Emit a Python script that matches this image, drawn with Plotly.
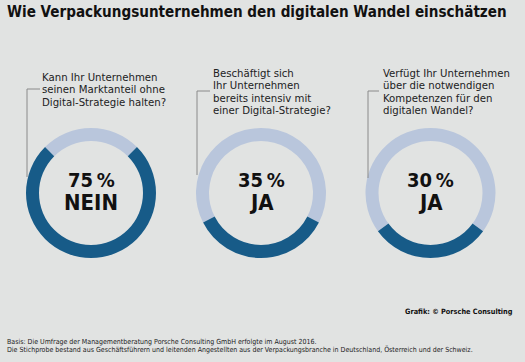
import plotly.graph_objects as go

W, H = 525, 362

title = "Wie Verpackungsunternehmen den digitalen Wandel einschätzen"
questions = [
    ["Kann Ihr Unternehmen", "seinen Marktanteil ohne", "Digital-Strategie halten?"],
    ["Beschäftigt sich", "Ihr Unternehmen", "bereits intensiv mit", "einer Digital-Strategie?"],
    ["Verfügt Ihr Unternehmen", "über die notwendigen", "Kompetenzen für den", "digitalen Wandel?"],
]
answers = ["NEIN", "JA", "JA"]
highlight_pct = [75, 35, 30]          # dark segment share in %
source = "Grafik: © Porsche Consulting"
notes = [
    "Basis: Die Umfrage der Managementberatung Porsche Consulting GmbH erfolgte im August 2016.",
    "Die Stichprobe bestand aus Geschäftsführern und leitenden Angestellten aus der Verpackungsbranche in Deutschland, Österreich und der Schweiz.",
]

DARK = "#175b88"
LIGHT = "#b9c6dc"
BG = "#e1e3e2"
COND = "DejaVu Sans Condensed, DejaVu Sans, sans-serif"
PAD = 3  # annotation inner padding compensation

def px(x):
    return x / W

def py(y):
    return 1 - y / H

centers_x = [91, 261, 430.5]
center_y = 193
R = 65
ring = 13

fig = go.Figure()
for i, pct in enumerate(highlight_pct):
    light = 100 - pct
    cx = centers_x[i]
    fig.add_trace(go.Pie(
        values=[light, pct],
        labels=["rest", "hl"],
        sort=False,
        direction="clockwise",
        rotation=-light * 360 / 100 / 2,
        hole=(R - ring) / R,
        marker=dict(colors=[LIGHT, DARK], line=dict(width=0)),
        textinfo="none",
        hoverinfo="skip",
        showlegend=False,
        domain=dict(x=[px(cx - R), px(cx + R)], y=[py(center_y + R), py(center_y - R)]),
    ))

ann = []
ann.append(dict(text=f"<b>{title}</b>", x=px(8 - PAD), y=py(12), xanchor="left", yanchor="middle",
                font=dict(family=COND, size=15.1, color="#111")))

text_x = [43, 214, 384]
line_y0 = [77, 73, 73]
line_dy = 12.6
bracket = [  # (x_vert, y_tick, x_tick_end, y_bottom)
    (27, 89, 40, 177),
    (197, 91, 210, 175),
    (368, 91, 379, 178),
]
shapes = []
for i, q in enumerate(questions):
    for j, line in enumerate(q):
        ann.append(dict(text=line, x=px(text_x[i] - PAD), y=py(line_y0[i] + j * line_dy),
                        xanchor="left", yanchor="middle",
                        font=dict(family=COND, size=11.3, color="#222")))
    xv, yt, xe, yb = bracket[i]
    shapes.append(dict(type="path", xref="paper", yref="paper",
                       path=f"M {px(xe)} {py(yt)} L {px(xv)} {py(yt)} L {px(xv)} {py(yb)}",
                       line=dict(color="#8a8a8a", width=1)))
    cx = centers_x[i]
    ann.append(dict(text=f"<b>{highlight_pct[i]}\u2009%</b>", x=px(cx), y=py(180),
                    xanchor="center", yanchor="middle",
                    font=dict(family=COND, size=20, color="#111")))
    ann.append(dict(text=f"<b>{answers[i]}</b>", x=px(cx), y=py(202),
                    xanchor="center", yanchor="middle",
                    font=dict(family=COND, size=22, color="#111")))

ann.append(dict(text=f"<b>{source}</b>", x=px(512 + PAD), y=py(311), xanchor="right", yanchor="middle",
                font=dict(family=COND, size=7.3, color="#111")))
for j, n in enumerate(notes):
    ann.append(dict(text=n, x=px(8 - PAD), y=py(342 + j * 7.3), xanchor="left", yanchor="middle",
                    font=dict(family=COND, size=7, color="#222")))

for a in ann:
    a.update(xref="paper", yref="paper", showarrow=False)

fig.update_layout(
    width=W, height=H,
    margin=dict(l=0, r=0, t=0, b=0),
    paper_bgcolor=BG, plot_bgcolor=BG,
    annotations=ann, shapes=shapes,
)
fig.write_html("out.html", config={"displayModeBar": False},
               post_script="document.body.style.margin='0';document.body.style.background='#e1e3e2';")
